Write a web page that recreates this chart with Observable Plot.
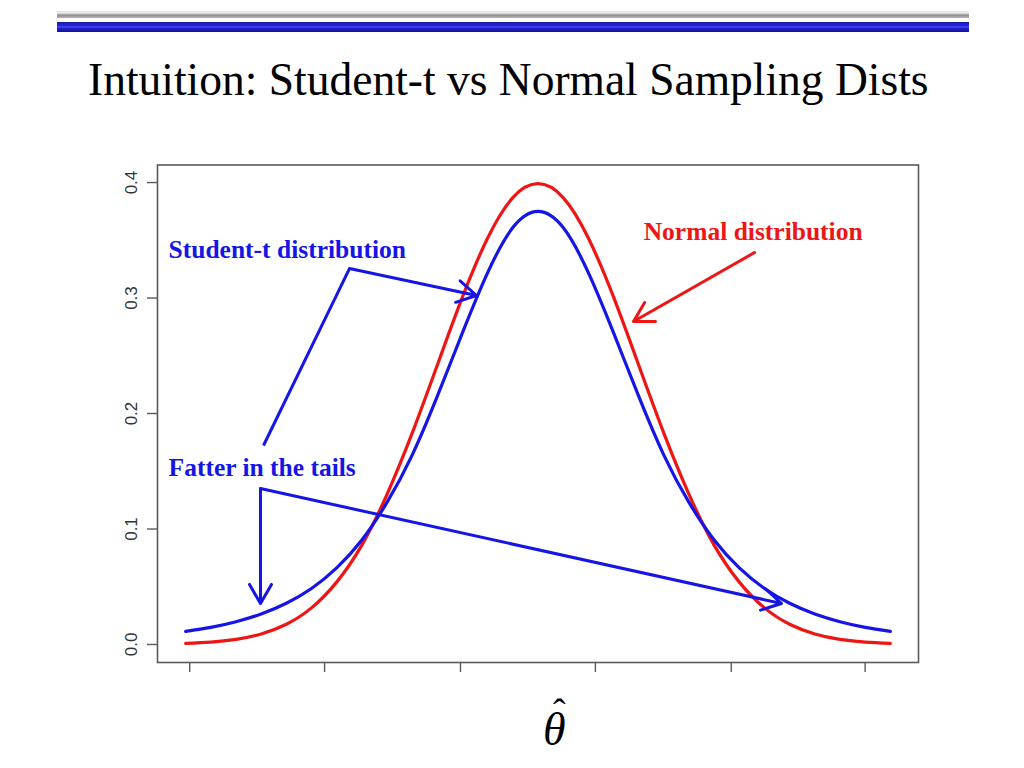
<!DOCTYPE html>
<html>
<head>
<meta charset="utf-8">
<script src="https://cdn.jsdelivr.net/npm/d3@7"></script>
<script src="https://cdn.jsdelivr.net/npm/@observablehq/plot@0.6"></script>
<style>
  html, body { margin: 0; padding: 0; background: #fff; }
  body { width: 1024px; height: 768px; position: relative; overflow: hidden; font-family: "Liberation Serif", "Times New Roman", serif; }
  #bar-gray { position: absolute; left: 57px; top: 11px; width: 912px; height: 7px;
    background: linear-gradient(to bottom, #d8d8d8 0%, #f2f2f2 25%, #8c8c8c 60%, #b8b8b8 100%); }
  #bar-blue { position: absolute; left: 57px; top: 22px; width: 912px; height: 10px;
    background: linear-gradient(to bottom, #1a1aa8 0%, #2626d8 35%, #4a4af0 50%, #2020c8 65%, #12129a 100%); }
  #title { position: absolute; left: 88px; top: 57px; font-size: 45.5px; line-height: 45px; color: #000; white-space: nowrap; }
  #chart { position: absolute; left: 0; top: 140px; }
  #theta { position: absolute; left: 543px; top: 714.5px; height: 30px; font-size: 46px; line-height: 30px; font-style: italic; color: #000; }
  #hat { position: absolute; left: 553px; top: 711px; height: 2px; font-size: 38px; line-height: 2px; color: #000; }
</style>
</head>
<body>
<div id="bar-gray"></div>
<div id="bar-blue"></div>
<div id="title">Intuition: Student-t vs Normal Sampling Dists</div>
<div id="chart"></div>
<div id="hat">ˆ</div>
<div id="theta">θ</div>
<script>
// x positions (theta-hat, standardized) at which the curves were read
const xs = [-3.5, -3.25, -3, -2.75, -2.5, -2.25, -2, -1.75, -1.5, -1.25, -1, -0.75, -0.5, -0.25, 0,
            0.25, 0.5, 0.75, 1, 1.25, 1.5, 1.75, 2, 2.25, 2.5, 2.75, 3, 3.25, 3.5];
// Normal sampling distribution (red)
const normalDensity = [0.0009, 0.0020, 0.0044, 0.0091, 0.0175, 0.0317, 0.054, 0.086, 0.130, 0.183, 0.242, 0.301, 0.352, 0.387, 0.399,
                       0.387, 0.352, 0.301, 0.242, 0.183, 0.130, 0.086, 0.054, 0.0317, 0.0175, 0.0091, 0.0044, 0.0020, 0.0009];
// Student-t sampling distribution (blue)
const studentDensity = [0.0113, 0.0148, 0.0197, 0.0264, 0.0357, 0.0485, 0.0663, 0.0905, 0.123, 0.164, 0.215, 0.270, 0.322, 0.361, 0.375,
                        0.361, 0.322, 0.270, 0.215, 0.164, 0.123, 0.0905, 0.0663, 0.0485, 0.0357, 0.0264, 0.0197, 0.0148, 0.0113];

// axes
const yTicks = [0, 0.1, 0.2, 0.3, 0.4];
const yTickLabels = ["0.0", "0.1", "0.2", "0.3", "0.4"];
const xTicks = [-3.46, -2.12, -0.77, 0.57, 1.92, 3.25];

// annotation labels (anchored in data coordinates)
const labelTexts = ["Student-t distribution", "Normal distribution", "Fatter in the tails"];
const labelX = [-3.67, 1.05, -3.67];
const labelY = [0.342, 0.3576, 0.1526];
const labelColor = ["blue", "red", "blue"];

// annotation leader segments (no head) and arrows (with head), data coordinates
const leaderX1 = [-2.727], leaderY1 = [0.1723], leaderX2 = [-1.873], leaderY2 = [0.3255];
const arrowX1 = [-1.873, 2.151, -2.757, -2.757];
const arrowY1 = [0.3255, 0.3394, 0.1351, 0.1351];
const arrowX2 = [-0.611, 0.949, -2.757, 2.419];
const arrowY2 = [0.3022, 0.2797, 0.0355, 0.0355];
const arrowColor = ["blue", "red", "blue", "blue"];

const RED = "#ee1515", BLUE = "#1515e6";
const colorOf = c => c === "red" ? RED : BLUE;

const normalRows = xs.map((x, i) => ({x, y: normalDensity[i]}));
const studentRows = xs.map((x, i) => ({x, y: studentDensity[i]}));
const labels = labelTexts.map((t, i) => ({t, x: labelX[i], y: labelY[i], c: colorOf(labelColor[i])}));
const leaders = leaderX1.map((_, i) => ({x1: leaderX1[i], y1: leaderY1[i], x2: leaderX2[i], y2: leaderY2[i]}));
const arrows = arrowX1.map((_, i) => ({x1: arrowX1[i], y1: arrowY1[i], x2: arrowX2[i], y2: arrowY2[i], c: colorOf(arrowColor[i])}));

const chart = Plot.plot({
  width: 1024,
  height: 620,
  marginTop: 24.5,
  marginBottom: 98,
  marginLeft: 157,
  marginRight: 106,
  x: {domain: [-3.78, 3.78], axis: null},
  y: {domain: [-0.0156, 0.4152], axis: null},
  style: {background: "transparent", fontFamily: "'Liberation Sans', Arial, sans-serif", fontSize: "17px", overflow: "visible"},
  marks: [
    Plot.frame({stroke: "#5a5a5a", strokeWidth: 1.6}),
    Plot.axisY(yTicks, {
      tickFormat: d => yTickLabels[yTicks.indexOf(d)],
      tickRotate: -90, tickSize: 10, tickPadding: 11, fontSize: 17,
      fill: "#333", stroke: "#5a5a5a", strokeWidth: 1.4, label: null
    }),
    Plot.axisX(xTicks, {
      tickFormat: () => "", tickSize: 10, stroke: "#5a5a5a", strokeWidth: 1.4, label: null, anchor: "bottom"
    }),
    Plot.line(normalRows, {x: "x", y: "y", stroke: RED, strokeWidth: 3.2, curve: "natural"}),
    Plot.line(studentRows, {x: "x", y: "y", stroke: BLUE, strokeWidth: 3.2, curve: "natural"}),
    Plot.link(leaders, {x1: "x1", y1: "y1", x2: "x2", y2: "y2", stroke: BLUE, strokeWidth: 3}),
    Plot.arrow(arrows, {x1: "x1", y1: "y1", x2: "x2", y2: "y2", stroke: "c", strokeWidth: 3, headLength: 11, headAngle: 60}),
    Plot.text(labels, {x: "x", y: "y", text: "t", fill: "c", textAnchor: "start",
      fontFamily: "'Liberation Serif', 'Times New Roman', serif", fontWeight: "bold", fontSize: 25.5})
  ]
});
document.getElementById("chart").appendChild(chart);
</script>
</body>
</html>
